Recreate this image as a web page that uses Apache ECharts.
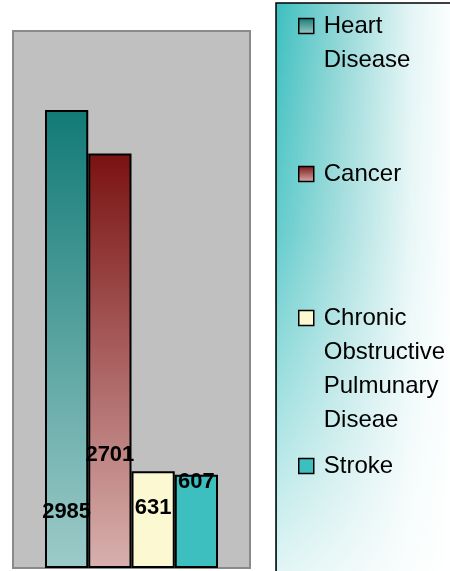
<!DOCTYPE html>
<html>
<head>
<meta charset="utf-8">
<script src="https://cdn.jsdelivr.net/npm/echarts@6/dist/echarts.min.js"></script>
<style>
  html, body { margin: 0; padding: 0; background: #fff; }
</style>
</head>
<body>
<div id="chart" style="width: 450px; height: 571px;"></div>
<script>
// data
const category = ['Deaths']
const seriesNames = ['Heart Disease', 'Cancer', 'Chronic Obstructive Pulmunary Diseae', 'Stroke']
const legendTexts = ['Heart\nDisease', 'Cancer', 'Chronic\nObstructive\nPulmunary\nDiseae', 'Stroke']
const values = [2985, 2701, 631, 607]

const chart = echarts.init(document.getElementById('chart'))

const grad = (top, bottom) => new echarts.graphic.LinearGradient(0, 0, 0, 1, [
  { offset: 0, color: top },
  { offset: 1, color: bottom }
])

const barColors = [
  grad('#127a76', '#9dcbc9'),
  grad('#7a1212', '#d8b0ae'),
  '#fbf8d2',
  '#3dbfbf'
]
// how far up from the bar bottom each value label sits
const labelDist = [45, 102, 49, 75]
// legend placement (icon centres)
const legendTops = [-25, 157, 199, 449]
const LH = 34

const series = seriesNames.map((name, i) => ({
  name: name,
  type: 'bar',
  data: [values[i]],
  barGap: '0%',
  barCategoryGap: '27%',
  itemStyle: {
    color: barColors[i],
    borderColor: '#000',
    borderWidth: 2
  },
  label: {
    show: true,
    position: 'insideBottom',
    distance: labelDist[i],
    color: '#000',
    fontFamily: 'Arial',
    fontWeight: 'bold',
    fontSize: 22
  },
  emphasis: { disabled: true }
}))

const legends = seriesNames.map((name, i) => {
  const n = legendTexts[i].split('\n').length
  // blank lines in front keep the first text line level with the icon
  const txt = '\n'.repeat(n - 1) + legendTexts[i]
  return {
    data: [name],
    orient: 'vertical',
    left: 298,
    top: legendTops[i],
    padding: 0,
    itemWidth: 15,
    itemHeight: 15,
    icon: 'rect',
    selectedMode: false,
    itemStyle: { borderColor: '#000', borderWidth: 1.5 },
    formatter: () => txt,
    textStyle: {
      fontFamily: 'Arial',
      fontSize: 24,
      lineHeight: LH,
      color: '#000',
      padding: [0, 0, 0, 5]
    }
  }
})

const option = {
  animation: false,
  graphic: [
    {
      type: 'rect',
      z: -10,
      shape: { x: 276, y: 3, width: 180, height: 575 },
      style: {
        fill: new echarts.graphic.LinearGradient(0, 0, 1, 0, [
          { offset: 0, color: '#3cbfbf' },
          { offset: 0.35, color: '#8fd6d6' },
          { offset: 0.75, color: '#e4f5f5' },
          { offset: 1, color: '#ffffff' }
        ]),
        stroke: '#000',
        lineWidth: 1.5
      }
    },
    {
      type: 'rect',
      z: -9,
      shape: { x: 277, y: 4, width: 178, height: 570 },
      style: {
        fill: new echarts.graphic.LinearGradient(0, 0, 0, 1, [
          { offset: 0, color: 'rgba(255,255,255,0)' },
          { offset: 0.4, color: 'rgba(255,255,255,0.2)' },
          { offset: 1, color: 'rgba(255,255,255,0.85)' }
        ])
      }
    }
  ],
  legend: legends,
  grid: {
    left: 13,
    right: 200,
    top: 31,
    bottom: 3,
    show: true,
    backgroundColor: '#c0c0c0',
    borderColor: '#8a8a8a',
    borderWidth: 2,
    containLabel: false
  },
  xAxis: {
    type: 'category',
    data: category,
    show: false
  },
  yAxis: {
    type: 'value',
    min: 0,
    max: 3500,
    show: false
  },
  series: series
}

chart.setOption(option)
</script>
</body>
</html>
